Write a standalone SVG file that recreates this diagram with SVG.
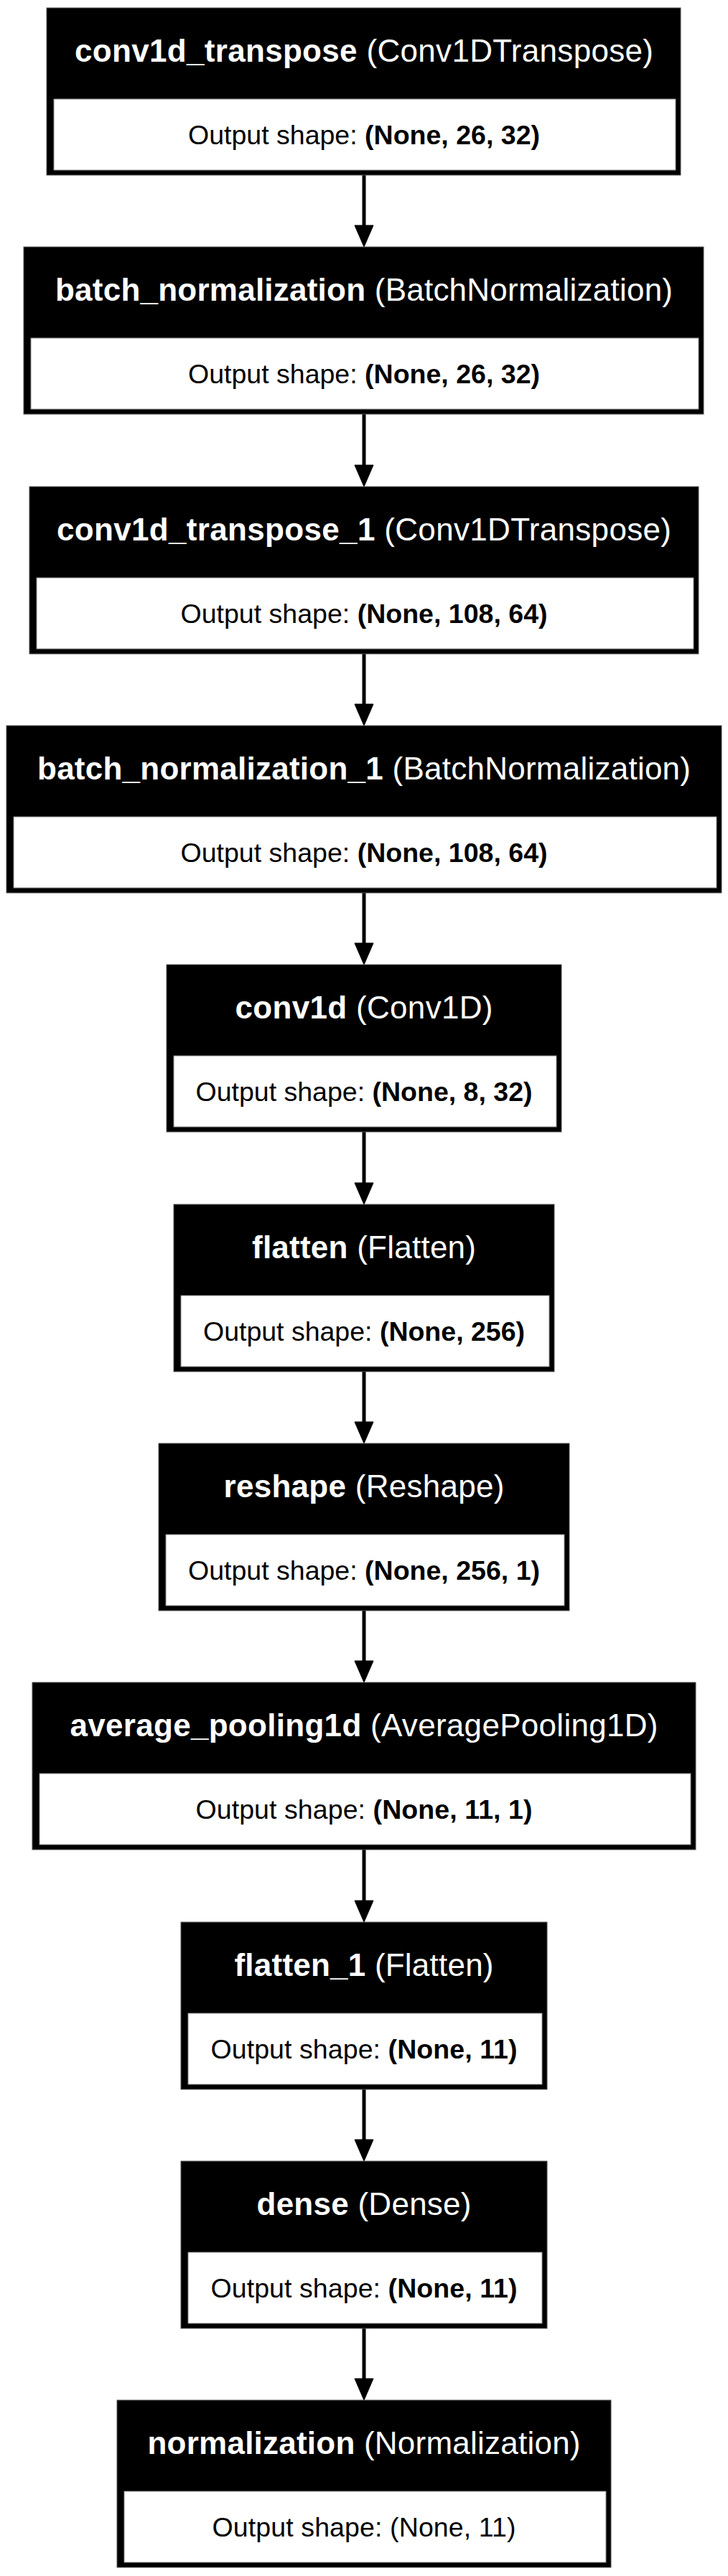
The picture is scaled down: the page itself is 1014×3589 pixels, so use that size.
<svg xmlns="http://www.w3.org/2000/svg" width="1014" height="3589" viewBox="0 0 1014 3589">
<style>
.o{fill:#000;stroke:#555;stroke-width:1}
.i{fill:#fff;stroke:#888;stroke-width:1}
.h{font-family:"Liberation Sans",Arial,sans-serif;font-size:44px;fill:#fff;text-anchor:middle}
.b{font-family:"Liberation Sans",Arial,sans-serif;font-size:37.5px;fill:#000;text-anchor:middle}
.bd{font-weight:bold}
.e{stroke:#000;stroke-width:5;fill:none}
.a{fill:#000;stroke:#000;stroke-width:1}
</style>
<rect width="1014" height="3589" fill="#fff"/>
<g id="connectors">
<line class="e" x1="507" y1="244" x2="507" y2="316"/><polygon class="a" points="494,314 520,314 507,344"/>
<line class="e" x1="507" y1="577" x2="507" y2="650"/><polygon class="a" points="494,648 520,648 507,678"/>
<line class="e" x1="507" y1="911" x2="507" y2="983"/><polygon class="a" points="494,981 520,981 507,1011"/>
<line class="e" x1="507" y1="1244" x2="507" y2="1316"/><polygon class="a" points="494,1314 520,1314 507,1344"/>
<line class="e" x1="507" y1="1577" x2="507" y2="1650"/><polygon class="a" points="494,1648 520,1648 507,1678"/>
<line class="e" x1="507" y1="1911" x2="507" y2="1983"/><polygon class="a" points="494,1981 520,1981 507,2011"/>
<line class="e" x1="507" y1="2244" x2="507" y2="2316"/><polygon class="a" points="494,2314 520,2314 507,2344"/>
<line class="e" x1="507" y1="2577" x2="507" y2="2650"/><polygon class="a" points="494,2648 520,2648 507,2678"/>
<line class="e" x1="507" y1="2911" x2="507" y2="2983"/><polygon class="a" points="494,2981 520,2981 507,3011"/>
<line class="e" x1="507" y1="3244" x2="507" y2="3316"/><polygon class="a" points="494,3314 520,3314 507,3344"/>
</g>
<g id="conv1d_transpose">
<rect class="o" x="65" y="11" width="883" height="233"/><rect class="i" x="75" y="138" width="866" height="99"/>
<text class="h" x="507" y="86" textLength="806"><tspan class="bd">conv1d_transpose</tspan> (Conv1DTranspose)</text>
<text class="b" x="507" y="201" textLength="490">Output shape: <tspan class="bd">(None, 26, 32)</tspan></text>
</g>
<g id="batch_normalization">
<rect class="o" x="33" y="344" width="947" height="233"/><rect class="i" x="43" y="471" width="930" height="99"/>
<text class="h" x="507" y="419" textLength="860"><tspan class="bd">batch_normalization</tspan> (BatchNormalization)</text>
<text class="b" x="507" y="534" textLength="490">Output shape: <tspan class="bd">(None, 26, 32)</tspan></text>
</g>
<g id="conv1d_transpose_1">
<rect class="o" x="41" y="678" width="932" height="233"/><rect class="i" x="51" y="805" width="915" height="99"/>
<text class="h" x="507" y="753" textLength="856"><tspan class="bd">conv1d_transpose_1</tspan> (Conv1DTranspose)</text>
<text class="b" x="507" y="868" textLength="511">Output shape: <tspan class="bd">(None, 108, 64)</tspan></text>
</g>
<g id="batch_normalization_1">
<rect class="o" x="9" y="1011" width="996" height="233"/><rect class="i" x="19" y="1138" width="979" height="99"/>
<text class="h" x="507" y="1086" textLength="910"><tspan class="bd">batch_normalization_1</tspan> (BatchNormalization)</text>
<text class="b" x="507" y="1201" textLength="511">Output shape: <tspan class="bd">(None, 108, 64)</tspan></text>
</g>
<g id="conv1d">
<rect class="o" x="232" y="1344" width="550" height="233"/><rect class="i" x="242" y="1471" width="533" height="99"/>
<text class="h" x="507" y="1419" textLength="359"><tspan class="bd">conv1d</tspan> (Conv1D)</text>
<text class="b" x="507" y="1534" textLength="469">Output shape: <tspan class="bd">(None, 8, 32)</tspan></text>
</g>
<g id="flatten">
<rect class="o" x="242" y="1678" width="530" height="233"/><rect class="i" x="252" y="1805" width="513" height="99"/>
<text class="h" x="507" y="1753" textLength="312"><tspan class="bd">flatten</tspan> (Flatten)</text>
<text class="b" x="507" y="1868" textLength="448">Output shape: <tspan class="bd">(None, 256)</tspan></text>
</g>
<g id="reshape">
<rect class="o" x="221" y="2011" width="572" height="233"/><rect class="i" x="231" y="2138" width="555" height="99"/>
<text class="h" x="507" y="2086" textLength="391"><tspan class="bd">reshape</tspan> (Reshape)</text>
<text class="b" x="507" y="2201" textLength="490">Output shape: <tspan class="bd">(None, 256, 1)</tspan></text>
</g>
<g id="average_pooling1d">
<rect class="o" x="45" y="2344" width="924" height="233"/><rect class="i" x="55" y="2471" width="907" height="99"/>
<text class="h" x="507" y="2419" textLength="819"><tspan class="bd">average_pooling1d</tspan> (AveragePooling1D)</text>
<text class="b" x="507" y="2534" textLength="469">Output shape: <tspan class="bd">(None, 11, 1)</tspan></text>
</g>
<g id="flatten_1">
<rect class="o" x="252" y="2678" width="510" height="233"/><rect class="i" x="262" y="2805" width="493" height="99"/>
<text class="h" x="507" y="2753" textLength="361"><tspan class="bd">flatten_1</tspan> (Flatten)</text>
<text class="b" x="507" y="2868" textLength="427">Output shape: <tspan class="bd">(None, 11)</tspan></text>
</g>
<g id="dense">
<rect class="o" x="252" y="3011" width="510" height="233"/><rect class="i" x="262" y="3138" width="493" height="99"/>
<text class="h" x="507" y="3086" textLength="299"><tspan class="bd">dense</tspan> (Dense)</text>
<text class="b" x="507" y="3201" textLength="427">Output shape: <tspan class="bd">(None, 11)</tspan></text>
</g>
<g id="normalization">
<rect class="o" x="163" y="3344" width="688" height="233"/><rect class="i" x="173" y="3471" width="671" height="99"/>
<text class="h" x="507" y="3419" textLength="603"><tspan class="bd">normalization</tspan> (Normalization)</text>
<text class="b" x="507" y="3534" textLength="423">Output shape: (None, 11)</text>
</g>
</svg>
